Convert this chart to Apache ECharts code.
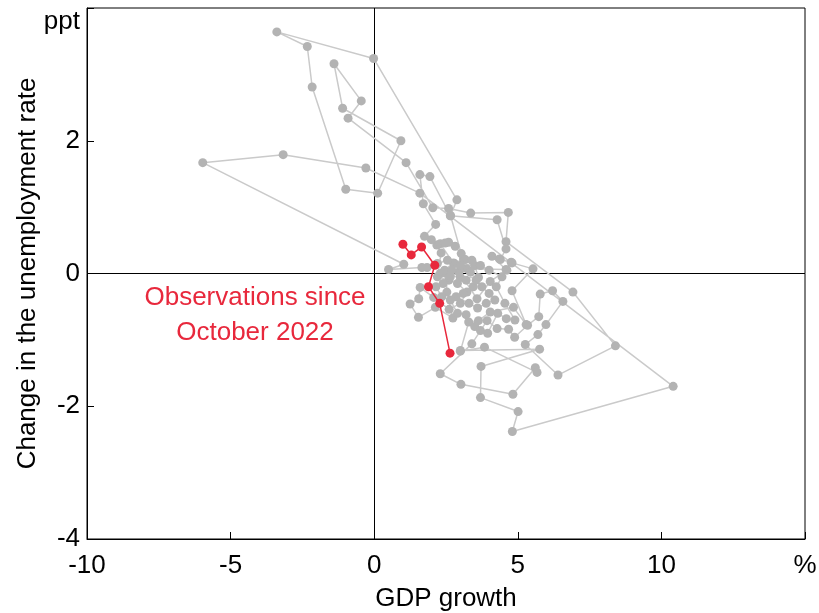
<!DOCTYPE html>
<html>
<head>
<meta charset="utf-8">
<script src="https://cdn.jsdelivr.net/npm/echarts@6/dist/echarts.min.js"></script>
<style>html,body{margin:0;padding:0;background:#fff;}#c{width:819px;height:613px;}</style>
</head>
<body>
<div id="c"></div>
<script>
// GDP growth (%) vs change in unemployment rate (ppt), connected in time order
const historyPoints = [
  [2.30,0.00],[3.00,-0.06],[3.63,-0.06],[3.50,0.12],[2.79,0.15],[3.11,0.22],[3.03,0.30],[2.66,0.87],[2.88,1.11],
  [-0.02,3.24],[-3.39,3.64],[-2.33,3.42],[-2.16,2.81],[-0.99,1.27],[0.12,1.21],[0.93,2.00],[-1.10,2.49],
  [-1.40,3.16],[-0.45,2.60],[-0.91,2.34],[1.11,1.67],[2.04,0.99],[2.59,0.98],[3.36,0.91],[4.67,0.92],
  [4.59,0.48],[6.92,-0.28],[8.40,-1.09],[6.40,-1.53],[5.26,-1.07],[5.70,-0.92],[5.98,-0.77],[6.57,-0.42],
  [6.21,-0.26],[5.78,-0.31],[5.73,-0.65],[5.34,-0.78],[4.89,-0.96],[4.68,-0.84],[4.28,-0.83],[3.93,-0.71],
  [3.40,-1.06],[2.30,-1.51],[3.02,-1.67],[4.83,-1.82],[5.61,-1.42],[5.67,-1.49],[3.84,-1.11],[3.00,-1.17],
  [3.29,-0.73],[3.63,-0.71],[4.04,-0.58],[4.85,-0.51],[5.29,-0.77],[4.80,-0.26],[5.53,0.07],[4.80,0.16],
  [4.36,0.22],[4.10,0.26],[4.59,0.06],[3.23,0.07],[2.51,0.00],[2.53,-0.28],[2.74,-0.67],[2.13,-0.51],
  [1.54,-0.66],[1.25,-0.46],[1.55,-0.38],[1.60,-0.21],[2.07,-0.36],[2.61,-0.54],[3.00,-0.45],[3.23,-0.28],
  [2.90,-0.15],[2.60,-0.10],[2.20,-0.05],[2.33,0.31],[2.18,0.43],[1.99,0.51],[1.75,0.56],[2.14,0.74],
  [1.71,1.05],[1.59,1.49],[1.94,1.46],[2.65,0.87],[4.28,0.81],[4.59,0.37],[4.39,0.21],[4.77,0.17],
  [4.62,0.05],[4.04,-0.12],[3.58,-0.38],[2.30,0.45],[2.47,0.46],[2.59,0.47],[2.82,0.41],[3.17,0.21],
  [2.76,0.16],[2.45,0.05],[2.65,-0.05],[2.95,0.02],[3.20,-0.10],[3.45,-0.20],[3.10,-0.30],[2.85,-0.35],
  [3.30,-0.45],[3.60,-0.52],[3.90,-0.45],[4.20,-0.40],[4.00,-0.30],[3.75,-0.20],[3.55,-0.10],[3.35,0.02],
  [3.05,0.08],[2.70,0.05],[2.40,-0.15],[2.15,-0.20],[2.35,-0.35],[2.65,-0.40],[2.90,-0.60],[3.20,-0.62],
  [3.50,-0.80],[3.70,-0.86],[3.95,-0.90],[4.30,-0.60],[4.60,-0.68],[4.90,-0.70],[4.55,-0.45],[4.25,-0.20],
  [4.45,-0.05],[4.00,0.05],[3.70,0.12],[3.40,0.20],[3.00,0.12],[2.55,0.20],[2.20,0.15],[1.84,0.09],
  [1.66,0.09],[0.50,0.06],[1.03,0.14],
  [-5.97,1.67],[-3.17,1.79],[-0.29,1.59],[1.59,1.21],[10.41,-1.70],[4.81,-2.38],[5.01,-2.08],[3.70,-1.87],
  [3.72,-1.40],[5.76,-1.14],[3.00,-1.16]
];
const recentPoints = [
  [2.64,-1.20],[2.28,-0.45],[1.89,-0.20],[2.11,0.125],[1.65,0.40],[1.29,0.28],[1.00,0.44]
];
const xTickLabels = {'-10':'-10','-5':'-5','0':'0','5':'5','10':'10','15':'%'};
const yTickLabels = {'-4':'-4','-2':'-2','0':'0','2':'2','4':'ppt'};
const xTitle = 'GDP growth';
const yTitle = 'Change in the unemployment rate';
const annotation = 'Observations since\nOctober 2022';

const FONT = 'Liberation Sans, Arial, sans-serif';
const FS = 26;
const chart = echarts.init(document.getElementById('c'));
chart.setOption({
  animation: false,
  grid: {left: 87, right: 14, top: 8, bottom: 74, show: true, borderColor: '#000', borderWidth: 1,
         containLabel: false, outerBoundsMode: 'none'},
  xAxis: {
    type: 'value', min: -10, max: 15, interval: 5,
    name: xTitle, nameLocation: 'middle', nameGap: 47, nameMoveOverlap: false,
    nameTextStyle: {fontFamily: FONT, fontSize: FS, color: '#000'},
    axisLine: {show: true, onZero: false, lineStyle: {color: '#000'}},
    axisTick: {show: true, inside: true, length: 7, lineStyle: {color: '#000'}},
    splitLine: {show: false},
    axisLabel: {margin: 14, fontFamily: FONT, fontSize: FS, color: '#000',
      formatter: v => xTickLabels[String(v)] || ''}
  },
  yAxis: {
    type: 'value', min: -4, max: 4, interval: 2,
    name: yTitle, nameLocation: 'middle', nameGap: 46, nameMoveOverlap: false,
    nameTextStyle: {fontFamily: FONT, fontSize: FS, color: '#000'},
    axisLine: {show: true, onZero: false, lineStyle: {color: '#000'}},
    axisTick: {show: true, inside: true, length: 7, lineStyle: {color: '#000'}},
    splitLine: {show: false},
    axisLabel: {margin: 7, fontFamily: FONT, fontSize: FS, color: '#000',
      formatter: v => v === 4 ? '{p|' + yTickLabels['4'] + '}' : (yTickLabels[String(v)] || ''),
      rich: {p: {fontFamily: FONT, fontSize: FS, color: '#000', padding: [28, 0, 0, 0]}}}
  },
  series: [
    {
      type: 'line', data: historyPoints, symbol: 'circle', symbolSize: 9,
      lineStyle: {color: '#cacaca', width: 1.5}, itemStyle: {color: '#b3b3b3'},
      z: 2, silent: true,
      markLine: {silent: true, symbol: 'none', label: {show: false},
        lineStyle: {color: '#000', width: 1, type: 'solid'},
        data: [{xAxis: 0}, {yAxis: 0}], z: 1}
    },
    {
      type: 'line', data: recentPoints, symbol: 'circle', symbolSize: 9,
      lineStyle: {color: '#e8283c', width: 1.5}, itemStyle: {color: '#e8283c'}, z: 5, silent: true
    }
  ],
  graphic: [{
    type: 'text', x: 255, y: 280,
    style: {text: annotation, fontFamily: FONT, fontSize: FS, fill: '#e8283c', align: 'center', verticalAlign: 'top', lineHeight: 35}
  }]
});
</script>
</body>
</html>
